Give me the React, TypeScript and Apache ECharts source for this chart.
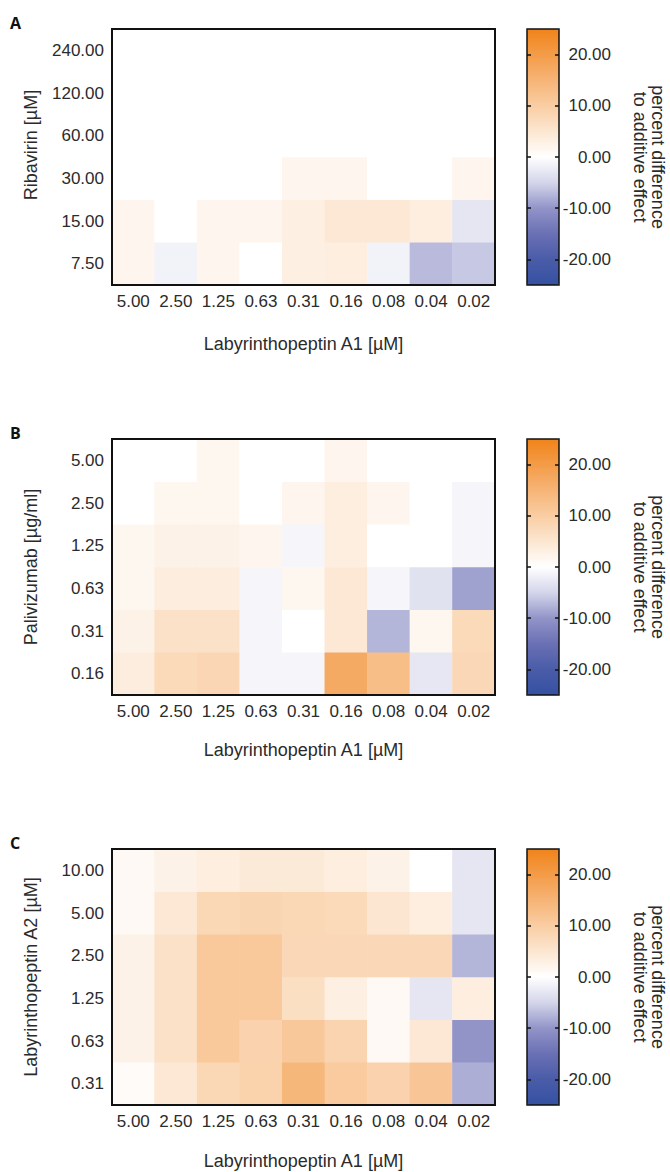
import React, { useEffect, useRef } from "react";
import * as echarts from "echarts";

// ---- categories ----
const LAB_A1 = ["5.00", "2.50", "1.25", "0.63", "0.31", "0.16", "0.08", "0.04", "0.02"];
const RIBAVIRIN = ["7.50", "15.00", "30.00", "60.00", "120.00", "240.00"];
const PALIVIZUMAB = ["0.16", "0.31", "0.63", "1.25", "2.50", "5.00"];
const LAB_A2 = ["0.31", "0.63", "1.25", "2.50", "5.00", "10.00"];
const CBAR_TICKS = [-20, -10, 0, 10, 20];

// ---- values (rows listed bottom -> top, columns follow LAB_A1) ----
// Panel A: Ribavirin
const A_7_50 = [1.8, -1.5, 1.8, 0, 3, 3.4, -1.5, -7, -6];
const A_15_00 = [1.8, 0, 1.8, 1.8, 3, 4.6, 4.6, 3.4, -3];
const A_30_00 = [0, 0, 0, 0, 1.8, 1.8, 0, 0, 1.8];
const A_60_00 = [0, 0, 0, 0, 0, 0, 0, 0, 0];
const A_120_00 = [0, 0, 0, 0, 0, 0, 0, 0, 0];
const A_240_00 = [0, 0, 0, 0, 0, 0, 0, 0, 0];
// Panel B: Palivizumab
const B_0_16 = [3.6, 7.5, 8.2, -1.2, -1.2, 17, 13, -2.8, 7.8];
const B_0_31 = [2.6, 6, 6, -1.2, 0, 4.6, -7.5, 1.6, 7.5];
const B_0_63 = [1.6, 3.6, 3.6, -1.2, 1.6, 4.6, -1.2, -3.5, -9];
const B_1_25 = [1.6, 2.6, 2.6, 1.8, -1.2, 3.4, 0, 0, -1.2];
const B_2_50 = [0, 1.6, 1.6, 0, 1.8, 3.4, 1.8, 0, -1.2];
const B_5_00 = [0, 0, 1.6, 0, 0, 1.8, 0, 0, 0];
// Panel C: Labyrinthopeptin A2
const C_0_31 = [0.8, 4.6, 8, 9, 14.5, 10.5, 8.8, 11.5, -8];
const C_0_63 = [2.6, 6, 10.8, 8.8, 11, 8.6, 1.2, 4.6, -10];
const C_1_25 = [2.6, 6, 10.8, 10.8, 6.5, 3.2, 1.2, -3, 3.4];
const C_2_50 = [2.6, 6, 10.8, 10.8, 7.8, 7.8, 7.8, 7.8, -7.5];
const C_5_00 = [1.2, 4.6, 8, 8.5, 8, 7.5, 5, 3.4, -3];
const C_10_00 = [1.2, 2.6, 3.4, 4.2, 4.2, 3.4, 2.6, 0, -3];

const ROWS_A = [A_7_50, A_15_00, A_30_00, A_60_00, A_120_00, A_240_00];
const ROWS_B = [B_0_16, B_0_31, B_0_63, B_1_25, B_2_50, B_5_00];
const ROWS_C = [C_0_31, C_0_63, C_1_25, C_2_50, C_5_00, C_10_00];

const FONT = "'Liberation Sans', Arial, sans-serif";
const TEXT = "#2b2b2b";
const COLORS = [
  "#3551a2", "#4a5ca8", "#6a70b4", "#9294c8", "#d4d5ea", "#ffffff",
  "#fce6d1", "#f9cda3", "#f6b476", "#f39c48", "#f0831a",
];

const PANELS = [
  { letter: "A", yCats: RIBAVIRIN, rows: ROWS_A, yName: "Ribavirin [µM]", top: 29, nameGap: 50, yPad: [0, 0, 0, 24] },
  { letter: "B", yCats: PALIVIZUMAB, rows: ROWS_B, yName: "Palivizumab [µg/ml]", top: 439, nameGap: 46, yPad: [0, 0, 0, 0] },
  { letter: "C", yCats: LAB_A2, rows: ROWS_C, yName: "Labyrinthopeptin A2 [µM]", top: 849, nameGap: 47, yPad: [0, 0, 0, 0] },
];

const LEFT = 112;
const WIDTH = 383;
const HEIGHT = 256;
const CB_LEFT = 527;
const CB_WIDTH = 32;

export default function App() {
  const ref = useRef<HTMLDivElement>(null);
  useEffect(() => {
    if (!ref.current) return;
    const chart = echarts.init(ref.current, undefined, { renderer: "svg" });

    const grid: any[] = [];
    const xAxis: any[] = [];
    const yAxis: any[] = [];
    const series: any[] = [];
    const visualMap: any[] = [];
    const graphic: any[] = [];

    PANELS.forEach((p) => {
      grid.push({
        left: LEFT, top: p.top, width: WIDTH, height: HEIGHT,
        show: true, borderColor: "#111", borderWidth: 2, backgroundColor: "transparent", z: 5,
      });
    });
    PANELS.forEach((p) => {
      grid.push({
        left: CB_LEFT, top: p.top, width: CB_WIDTH, height: HEIGHT,
        show: true, borderColor: "#111", borderWidth: 1.5, backgroundColor: "transparent", z: 6,
      });
    });

    PANELS.forEach((p, i) => {
      xAxis.push({
        type: "category", gridIndex: i, data: LAB_A1,
        axisLine: { show: false }, axisTick: { show: false }, splitLine: { show: false },
        axisLabel: { interval: 0, color: TEXT, fontFamily: FONT, fontSize: 17, margin: 8 },
        name: "Labyrinthopeptin A1 [µM]", nameLocation: "middle", nameGap: p.nameGap,
        nameTextStyle: { color: TEXT, fontFamily: FONT, fontSize: 18 },
      });
      yAxis.push({
        type: "category", gridIndex: i, data: p.yCats,
        axisLine: { show: false }, axisTick: { show: false }, splitLine: { show: false },
        axisLabel: { interval: 0, color: TEXT, fontFamily: FONT, fontSize: 17, margin: 8 },
        name: p.yName, nameLocation: "middle", nameGap: 72, nameRotate: 90,
        nameTextStyle: { color: TEXT, fontFamily: FONT, fontSize: 18, padding: p.yPad },
      });
    });
    PANELS.forEach((p, i) => {
      xAxis.push({ type: "value", gridIndex: 3 + i, show: false, min: 0, max: 1 });
      yAxis.push({
        type: "value", gridIndex: 3 + i, position: "left", min: -25, max: 25,
        axisLine: { show: false }, splitLine: { show: false },
        axisTick: { show: true, inside: true, length: 4, customValues: CBAR_TICKS, lineStyle: { color: "#111", width: 1.5 } },
        axisLabel: { show: false },
        z: 8,
      });
    });
    PANELS.forEach((p, i) => {
      yAxis.push({
        type: "value", gridIndex: 3 + i, position: "right", min: -25, max: 25,
        axisLine: { show: false }, splitLine: { show: false },
        axisTick: { show: true, inside: true, length: 4, customValues: CBAR_TICKS, lineStyle: { color: "#111", width: 1.5 } },
        axisLabel: {
          show: true, customValues: CBAR_TICKS, align: "right", margin: 52,
          color: TEXT, fontFamily: FONT, fontSize: 17,
          formatter: (v: number) => v.toFixed(2),
        },
        z: 8,
      });
    });

    PANELS.forEach((p, i) => {
      const data: number[][] = [];
      p.rows.forEach((row, yi) => row.forEach((v, xi) => data.push([xi, yi, v])));
      series.push({
        type: "heatmap", xAxisIndex: i, yAxisIndex: i, data,
        itemStyle: { borderWidth: 0 },
        emphasis: { disabled: true },
        label: { show: false },
      });
      visualMap.push({
        type: "continuous", seriesIndex: i, min: -25, max: 25,
        calculable: false, hoverLink: false,
        inRange: { color: COLORS },
        left: CB_LEFT, top: p.top, itemWidth: CB_WIDTH, itemHeight: HEIGHT,
        padding: 0, text: null, orient: "vertical",
      });
      graphic.push({
        type: "text", left: 10, top: p.top - 14,
        style: { text: p.letter, fontFamily: "'Open Sans', 'DejaVu Sans', sans-serif", fontWeight: "bold", fontSize: 16, fill: "#111" },
      });
      graphic.push({
        type: "text", x: 649, y: p.top + HEIGHT / 2, rotation: -Math.PI / 2,
        style: {
          text: "percent difference\nto additive effect",
          fontFamily: FONT, fontSize: 18, lineHeight: 18, fill: TEXT,
          align: "center", verticalAlign: "middle",
        },
      });
    });

    chart.setOption({
      animation: false,
      backgroundColor: "#ffffff",
      grid, xAxis, yAxis, series, visualMap, graphic,
    });
    return () => chart.dispose();
  }, []);

  return (
    <div
      ref={ref}
      style={{ position: "absolute", left: 0, top: 0, width: 670, height: 1172 }}
    />
  );
}
